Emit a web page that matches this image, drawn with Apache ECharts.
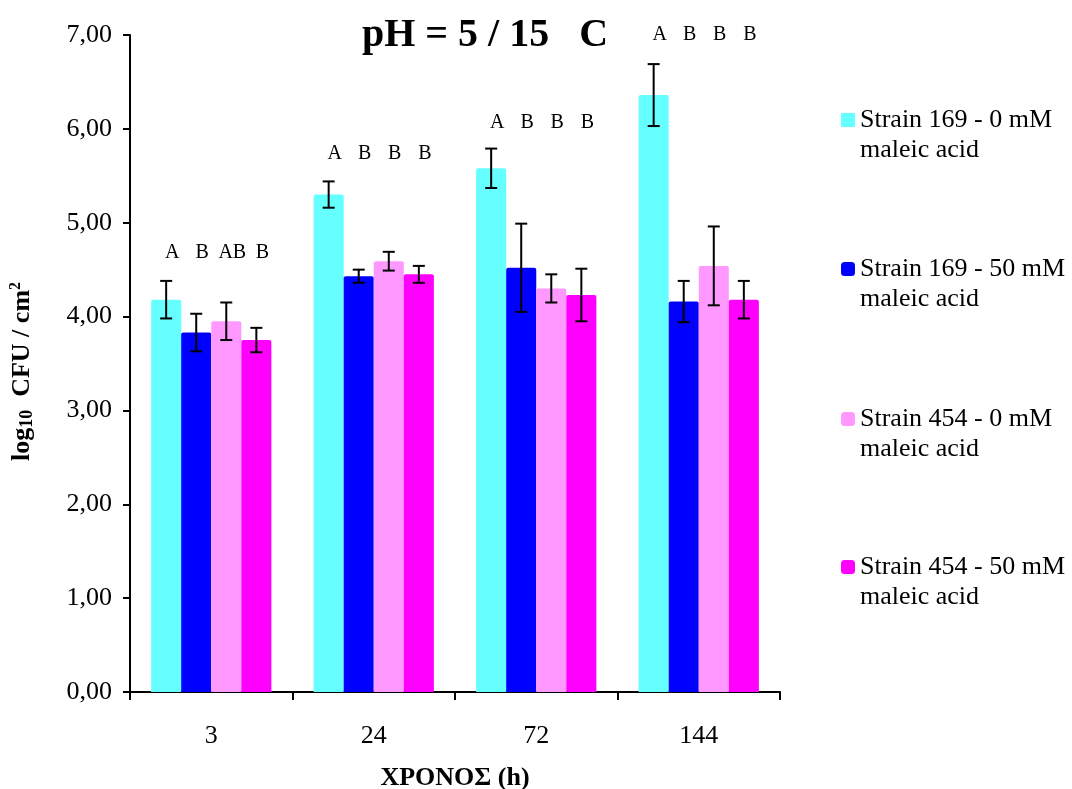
<!DOCTYPE html>
<html>
<head>
<meta charset="utf-8">
<script src="https://cdn.jsdelivr.net/npm/echarts@6/dist/echarts.min.js"></script>
<style>html,body{margin:0;padding:0;background:#fff}#c{width:1072px;height:789px}</style>
</head>
<body>
<div id="c"></div>
<script>
const categories = ['3', '24', '72', '144'];
const seriesNames = ['Strain 169 - 0 mM maleic acid', 'Strain 169 - 50 mM maleic acid', 'Strain 454 - 0 mM maleic acid', 'Strain 454 - 50 mM maleic acid'];
const s169_0 = [4.18, 5.30, 5.58, 6.36];
const s169_50 = [3.83, 4.43, 4.52, 4.16];
const s454_0 = [3.95, 4.59, 4.30, 4.54];
const s454_50 = [3.75, 4.45, 4.23, 4.18];
const err169_0 = [0.20, 0.14, 0.21, 0.33];
const err169_50 = [0.20, 0.07, 0.47, 0.22];
const err454_0 = [0.20, 0.10, 0.15, 0.42];
const err454_50 = [0.13, 0.09, 0.28, 0.20];
const letters169_0 = ['A', 'A', 'A', 'A'];
const letters169_50 = ['B', 'B', 'B', 'B'];
const letters454_0 = ['AB', 'B', 'B', 'B'];
const letters454_50 = ['B', 'B', 'B', 'B'];
const letterLevel = [4.68, 5.74, 6.07, 7.00];
const yTicks = [0, 1, 2, 3, 4, 5, 6, 7];

const colors = ['#66FFFF', '#0000FF', '#FF99FF', '#FF00FF'];
const values = [s169_0, s169_50, s454_0, s454_50];
const errs = [err169_0, err169_50, err454_0, err454_50];
const letters = [letters169_0, letters169_50, letters454_0, letters454_50];
const FONT = '"Liberation Serif", "Times New Roman", serif';
const GAP = 0.26;

const chart = echarts.init(document.getElementById('c'), null, {renderer: 'canvas'});

function barX(api, cat, idx) {
  const c = api.coord([cat, 0]);
  const band = api.size([1, 0])[0];
  const w = band * (1 - GAP) / 4;
  return c[0] + (idx - 1.5) * w;
}

const series = [];
values.forEach((v, i) => {
  series.push({
    name: seriesNames[i], type: 'bar', data: v,
    barGap: '0%', barCategoryGap: (GAP * 100) + '%',
    itemStyle: {color: colors[i], borderRadius: [2, 2, 0, 0]},
    z: 2
  });
});
values.forEach((v, i) => {
  series.push({
    type: 'custom', name: 'err' + i, z: 5, silent: true,
    data: v.map((val, k) => [k, val, errs[i][k]]),
    renderItem: function (params, api) {
      const cat = api.value(0), val = api.value(1), e = api.value(2);
      const x = barX(api, cat, i);
      const yt = api.coord([cat, val + e])[1];
      const yb = api.coord([cat, val - e])[1];
      const cw = 6;
      const st = {stroke: '#000', lineWidth: 2};
      return {type: 'group', children: [
        {type: 'line', shape: {x1: x, y1: yt, x2: x, y2: yb}, style: st},
        {type: 'line', shape: {x1: x - cw, y1: yt, x2: x + cw, y2: yt}, style: st},
        {type: 'line', shape: {x1: x - cw, y1: yb, x2: x + cw, y2: yb}, style: st}
      ]};
    }
  });
  series.push({
    type: 'custom', name: 'let' + i, z: 5, silent: true,
    data: v.map((val, k) => [k, letterLevel[k]]),
    renderItem: function (params, api) {
      const cat = api.value(0);
      const x = barX(api, cat, i) + 6;
      const y = api.coord([cat, api.value(1)])[1];
      return {type: 'text', x: x, y: y, style: {
        text: letters[i][params.dataIndex], fill: '#000', font: '20px ' + FONT,
        align: 'center', verticalAlign: 'middle'
      }};
    }
  });
});

const legendTops = [75, 224, 374, 522];
const legends = seriesNames.map((n, i) => ({
  data: [n], orient: 'vertical', left: 841, top: legendTops[i], padding: 0,
  icon: i === 0 ? 'rect' : 'roundRect', itemWidth: 14, itemHeight: 14, itemGap: 5,
  selectedMode: false,
  formatter: name => '\n' + name.replace(' maleic', '\nmaleic'),
  textStyle: {fontFamily: FONT, fontSize: 26, lineHeight: 30, color: '#000'}
}));

chart.setOption({
  animation: false,
  backgroundColor: '#fff',
  title: {
    text: 'pH = 5 / 15   C', left: 480, top: 11, textAlign: 'center',
    textStyle: {fontFamily: FONT, fontSize: 40, fontWeight: 'bold', color: '#000'}
  },
  legend: legends,
  grid: {left: 130, right: 292, top: 35, bottom: 97, containLabel: false, outerBoundsMode: 'none'},
  xAxis: {
    type: 'category', data: categories,
    name: 'ΧΡΟΝΟΣ (h)', nameLocation: 'middle', nameGap: 73,
    nameTextStyle: {fontFamily: FONT, fontSize: 26, fontWeight: 'bold', color: '#000'},
    axisLine: {lineStyle: {color: '#000', width: 2}},
    axisTick: {show: true, length: 8, alignWithLabel: false, lineStyle: {color: '#000', width: 2}},
    axisLabel: {fontFamily: FONT, fontSize: 26, color: '#000', margin: 31},
    splitLine: {show: false}
  },
  yAxis: {
    type: 'value', min: yTicks[0], max: yTicks[yTicks.length - 1], interval: 1,
    name: '{b|log}{s|10}{b|  CFU / cm}{p|2}', nameLocation: 'middle', nameGap: 94, nameRotate: 90,
    nameTextStyle: {
      padding: [0, 16, 0, 0],
      rich: {
        b: {fontFamily: FONT, fontSize: 26, fontWeight: 'bold', color: '#000'},
        s: {fontFamily: FONT, fontSize: 18, fontWeight: 'bold', color: '#000', padding: [10, 0, 0, 0]},
        p: {fontFamily: FONT, fontSize: 16, fontWeight: 'bold', color: '#000', padding: [0, 0, 12, 0]}
      }
    },
    axisLine: {show: true, lineStyle: {color: '#000', width: 2}},
    axisTick: {show: true, length: 7, lineStyle: {color: '#000', width: 2}},
    axisLabel: {fontFamily: FONT, fontSize: 26, color: '#000', margin: 18,
      formatter: v => v.toFixed(2).replace('.', ',')},
    splitLine: {show: false}
  },
  series: series
});
</script>
</body>
</html>
